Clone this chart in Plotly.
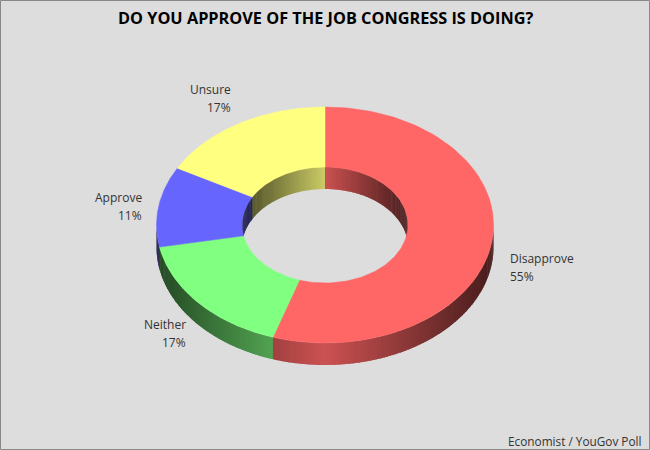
import numpy as np
import plotly.graph_objects as go

# data
labels = ['Disapprove', 'Neither', 'Approve', 'Unsure']
values = [55, 17, 11, 17]
colors = [(255, 102, 102), (128, 255, 128), (102, 102, 255), (255, 255, 128)]

title = 'DO YOU APPROVE OF THE JOB CONGRESS IS DOING?'
source = 'Economist / YouGov Poll'

# ring geometry, in page pixels
cx, cy = 325, 225
rx_out, ry_out = 168.5, 118
rx_in, ry_in = 83, 58
depth = 22

# label anchors: x, y of first line, side the text hangs from
label_pos = {
    'Disapprove': (508, 258, 'left'),
    'Neither': (188, 324, 'right'),
    'Approve': (144, 197, 'right'),
    'Unsure': (233, 89, 'right'),
}
line_gap = 18


def ellipse(theta, rx, ry, dy=0):
    # 0 deg is straight up, going clockwise
    t = np.radians(theta)
    return cx + rx * np.sin(t), cy - ry * np.cos(t) + dy


def shade(rgb, theta):
    # side walls: lightest near the middle, dark toward both ends
    f = 0.8 - 0.52 * abs(np.sin(np.radians(theta)))
    return 'rgb(%d,%d,%d)' % tuple(int(c * f) for c in rgb)


def polygon(xs, ys, color, width=0):
    return go.Scatter(x=xs, y=ys, mode='lines', fill='toself', fillcolor=color,
                      line=dict(color=color, width=width), hoverinfo='skip', showlegend=False)


# slice start/end angles from the values
ends = np.cumsum(values) / sum(values) * 360
starts = np.concatenate([[0], ends[:-1]])

fig = go.Figure()

# inner wall (back of the hole), then outer wall (front of the ring)
# each piece runs a bit past the next one so no seams show
for rx, ry, vis_from, vis_to in [(rx_in, ry_in, -90, 90), (rx_out, ry_out, 90, 270)]:
    for a in np.arange(vis_from, vis_to, 1.0):
        b = min(a + 1.6, vis_to)
        mid = a + 0.5
        i = int(np.searchsorted(ends, mid % 360))
        x0, y0 = ellipse(a, rx, ry)
        x1, y1 = ellipse(b, rx, ry)
        x2, y2 = ellipse(b, rx, ry, depth)
        x3, y3 = ellipse(a, rx, ry, depth)
        fig.add_trace(polygon([x0, x1, x2, x3, x0], [y0, y1, y2, y3, y0], shade(colors[i], mid)))

# top faces
for start, end, rgb in zip(starts, ends, colors):
    th = np.linspace(start, end, 120)
    xo, yo = ellipse(th, rx_out, ry_out)
    xi, yi = ellipse(th[::-1], rx_in, ry_in)
    xs = np.concatenate([xo, xi, xo[:1]])
    ys = np.concatenate([yo, yi, yo[:1]])
    fig.add_trace(polygon(xs, ys, 'rgb(%d,%d,%d)' % rgb, 0.5))

# labels, two annotations each because the line gap is wider than plotly's
for name, val in zip(labels, values):
    x, y, side = label_pos[name]
    for k, txt in enumerate([name, f'{val}%']):
        fig.add_annotation(x=x, y=y + k * line_gap, xref='x', yref='y', text=txt, showarrow=False,
                           xanchor=side, yanchor='middle',
                           font=dict(family='Open Sans', size=12, color='#333333'))

fig.add_annotation(x=325.5, y=18, xref='x', yref='y', text=f'<b>{title}</b>', showarrow=False,
                   font=dict(family='Open Sans', size=16.3, color='#000000'))
fig.add_annotation(x=644, y=441, xref='x', yref='y', text=source, showarrow=False, xanchor='right',
                   font=dict(family='Open Sans', size=11.8, color='#333333'))

# frame
fig.add_shape(type='rect', xref='x', yref='y', x0=0.5, y0=0.5, x1=649.5, y1=449.5,
              line=dict(color='#888888', width=1))

fig.update_xaxes(range=[0, 650], visible=False, fixedrange=True)
fig.update_yaxes(range=[450, 0], visible=False, fixedrange=True)
fig.update_layout(width=650, height=450, margin=dict(l=0, r=0, t=0, b=0),
                  paper_bgcolor='#DDDDDD', plot_bgcolor='#DDDDDD', showlegend=False)

# browser default body margin would shift the chart by 8px
fig.write_html('out.html', config={'displayModeBar': False},
               post_script="document.body.style.margin='0';document.body.style.overflow='hidden';")
